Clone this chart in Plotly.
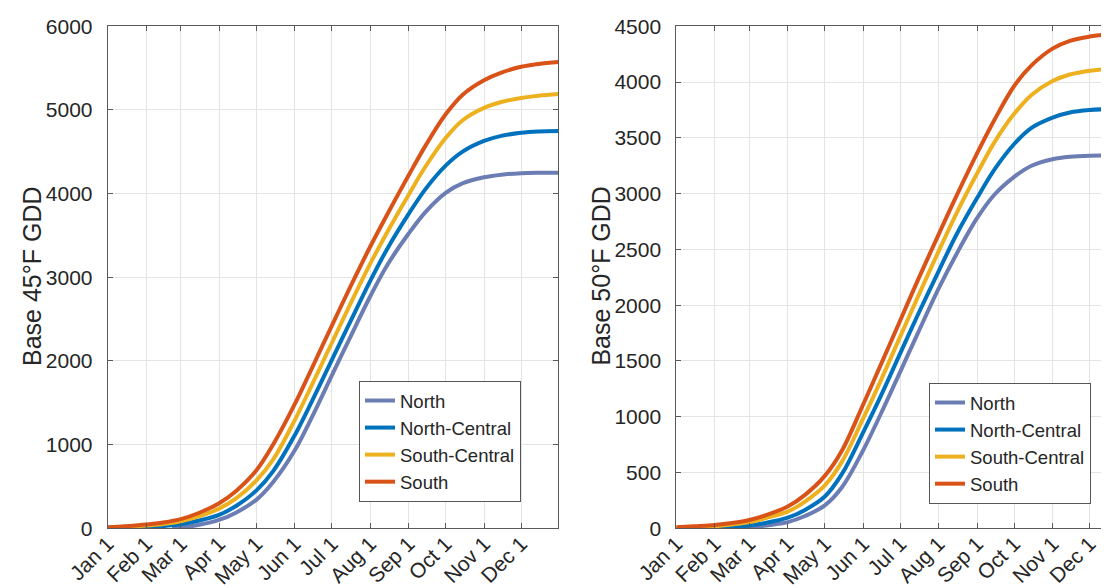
import plotly.graph_objects as go

# ---------------- data ----------------
sample_dates = ["2021-01-01", "2021-01-15", "2021-02-01", "2021-02-15", "2021-03-01",
                "2021-03-15", "2021-04-01", "2021-04-15", "2021-05-01", "2021-05-15",
                "2021-06-01", "2021-06-15", "2021-07-01", "2021-07-15", "2021-08-01",
                "2021-08-15", "2021-09-01", "2021-09-15", "2021-10-01", "2021-10-15",
                "2021-11-01", "2021-11-15", "2021-12-01", "2021-12-15", "2021-12-31"]

series_names = ["North", "North-Central", "South-Central", "South"]

# Base 45 F GDD (left panel)
gdd45_north_start = ["2021-02-22"]
gdd45_north_start_val = [0]
gdd45_north = [None, None, None, None, 10, 40, 100, 190, 340, 560, 930, 1330, 1825,
               2255, 2770, 3150, 3520, 3785, 4010, 4125, 4195, 4227, 4245, 4250, 4250]
gdd45_ncentral = [3, 8, 15, 28, 48, 90, 160, 270, 450, 690, 1110, 1520, 2010,
                  2440, 2955, 3345, 3755, 4060, 4335, 4505, 4630, 4690, 4727, 4742, 4748]
gdd45_scentral = [8, 18, 32, 52, 85, 140, 235, 360, 570, 830, 1290, 1715, 2215,
                  2650, 3160, 3545, 3985, 4330, 4665, 4880, 5025, 5095, 5143, 5170, 5190]
gdd45_south = [12, 25, 45, 70, 110, 180, 300, 450, 690, 1010, 1480, 1915, 2420,
               2855, 3365, 3757, 4216, 4580, 4948, 5186, 5356, 5447, 5516, 5550, 5574]

# Base 50 F GDD (right panel)
gdd50_north_start = ["2021-02-08"]
gdd50_north_start_val = [0]
gdd50_north = [None, None, None, 2, 8, 25, 55, 110, 205, 370, 700, 1020, 1405,
               1745, 2150, 2450, 2780, 2990, 3150, 3250, 3308, 3330, 3340, 3342, 3342]
gdd50_ncentral = [2, 5, 8, 15, 25, 50, 95, 165, 285, 490, 860, 1180, 1570,
                  1910, 2305, 2625, 2960, 3215, 3445, 3590, 3682, 3728, 3750, 3757, 3760]
gdd50_scentral = [5, 12, 20, 35, 55, 95, 150, 240, 385, 600, 985, 1320, 1720,
                  2070, 2485, 2815, 3180, 3460, 3715, 3885, 4010, 4068, 4102, 4118, 4130]
gdd50_south = [9, 18, 30, 48, 75, 120, 195, 300, 470, 700, 1110, 1460, 1865,
               2220, 2635, 2970, 3360, 3660, 3965, 4150, 4300, 4370, 4408, 4428, 4441]

tick_dates = ["2021-01-01", "2021-02-01", "2021-03-01", "2021-04-01", "2021-05-01",
              "2021-06-01", "2021-07-01", "2021-08-01", "2021-09-01", "2021-10-01",
              "2021-11-01", "2021-12-01"]
tick_labels = ["Jan 1", "Feb 1", "Mar 1", "Apr 1", "May 1", "Jun 1", "Jul 1",
               "Aug 1", "Sep 1", "Oct 1", "Nov 1", "Dec 1"]

colors = ["#6B7DB3", "#0072BD", "#EDB120", "#D95319"]

# ---------------- figure ----------------
W, H = 1109, 588
FONT = "Liberation Sans, Arial, sans-serif"
AXC = "#5a5a5a"
GRIDC = "#e4e4e4"
TXT = "#262626"

fig = go.Figure()

def add_set(north_x0, north_y0, north, ncen, scen, south, xa, ya, leg):
    ys = [north, ncen, scen, south]
    for i, (name, y) in enumerate(zip(series_names, ys)):
        xs = list(sample_dates)
        yy = list(y)
        if i == 0:
            # North starts later in the season
            xs = north_x0 + [d for d, v in zip(sample_dates, y) if v is not None]
            yy = north_y0 + [v for v in y if v is not None]
        fig.add_trace(go.Scatter(
            x=xs, y=yy, mode="lines", name=name,
            line=dict(color=colors[i], width=4, shape="spline", smoothing=1.0),
            xaxis=xa, yaxis=ya, legend=leg, showlegend=True))

add_set(gdd45_north_start, gdd45_north_start_val, gdd45_north, gdd45_ncentral,
        gdd45_scentral, gdd45_south, "x", "y", "legend")
add_set(gdd50_north_start, gdd50_north_start_val, gdd50_north, gdd50_ncentral,
        gdd50_scentral, gdd50_south, "x2", "y2", "legend2")

ybot = (H - 520.3) / H
ytop = (H - 18.3) / H

common_x = dict(type="date", tickmode="array", tickvals=tick_dates, ticktext=tick_labels,
                tickangle=-45, ticks="inside", ticklen=5, tickcolor=AXC,
                showline=True, linecolor=AXC, linewidth=1,
                showgrid=True, gridcolor=GRIDC, gridwidth=1, zeroline=False,
                tickfont=dict(family=FONT, size=21, color=TXT), automargin=False,
                ticklabelstandoff=-6)
common_y = dict(ticks="inside", ticklen=5, tickcolor=AXC, tickmode="linear",
                showline=True, linecolor=AXC, linewidth=1,
                showgrid=True, gridcolor=GRIDC, gridwidth=1, zeroline=False,
                tickfont=dict(family=FONT, size=21, color=TXT), automargin=False,
                ticklabelstandoff=10)

leg_common = dict(xanchor="left", yanchor="bottom", bgcolor="white",
                  bordercolor="#555555", borderwidth=1,
                  font=dict(family=FONT, size=18.5, color=TXT), tracegroupgap=0,
                  itemwidth=30)

fig.update_layout(
    width=W, height=H,
    margin=dict(l=0, r=0, t=0, b=0),
    paper_bgcolor="white", plot_bgcolor="white",
    template="none",
    xaxis=dict(domain=[99.7 / W, 550.3 / W], range=["2021-01-01", "2021-12-31"],
               anchor="y", mirror="ticks", **common_x),
    yaxis=dict(domain=[ybot, ytop], range=[0, 6000], dtick=1000, tick0=0,
               anchor="x", mirror="ticks", **common_y),
    xaxis2=dict(domain=[668.3 / W, 1.0], range=["2021-01-01", "2021-12-23 02:00"],
                anchor="y2", mirror="ticks", **common_x),
    yaxis2=dict(domain=[ybot, ytop], range=[0, 4500], dtick=500, tick0=0,
                anchor="x2", mirror=False, **common_y),
    legend=dict(x=351 / W, y=(H - 494) / H, **leg_common),
    legend2=dict(x=921 / W, y=(H - 496) / H, **leg_common),
    annotations=[
        dict(text="Base 45°F GDD", xref="paper", yref="paper", x=24 / W,
             y=(H - 268) / H, textangle=-90, showarrow=False,
             font=dict(family=FONT, size=25, color=TXT), xanchor="center", yanchor="middle"),
        dict(text="Base 50°F GDD", xref="paper", yref="paper", x=592.6 / W,
             y=(H - 268) / H, textangle=-90, showarrow=False,
             font=dict(family=FONT, size=25, color=TXT), xanchor="center", yanchor="middle"),
    ],
)

fig.write_html("out.html")
